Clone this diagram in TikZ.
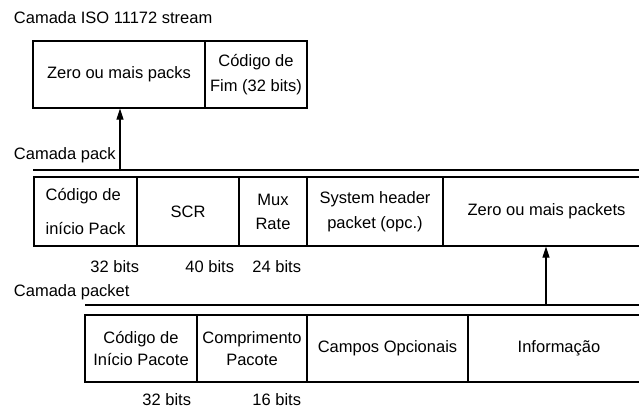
\documentclass[tikz,border=0pt]{standalone}
\usepackage{fontspec}
\setmainfont{Liberation Sans}
\usetikzlibrary{arrows.meta}

\begin{document}
\begin{tikzpicture}[x=1pt,y=-1pt,line width=1.2pt,
  every node/.style={font=\fontsize{16.5}{22}\selectfont},
  field/.style={draw,rectangle,inner sep=2pt,align=center},
  up/.style={-{Triangle[length=11pt,width=7pt]}}]
\useasboundingbox (0,0) rectangle (639,409);
\clip (0,0) rectangle (639,409);
% camada stream
\node[anchor=west] (lstream) at (10,18) {Camada ISO 11172 stream};
\node[field,minimum width=172,minimum height=67] (packs) at (119,74.5) {Zero ou mais packs};
\node[field,minimum width=102,minimum height=67] (fim) at (256,74.5) {Código de\\[3pt]Fim (32 bits)};
% camada pack
\node[anchor=west] (lpack) at (10,155) {Camada pack};
\coordinate (packl) at (33,170);
\draw (packl) -- (639,170);
\node[field,align=left,minimum width=103,minimum height=69] (start) at (85.5,211.5) {Código de\\[12pt]início Pack};
\node[field,minimum width=102,minimum height=69] (scr) at (188,211.5) {SCR};
\node[field,minimum width=68,minimum height=69] (mux) at (273,211.5) {Mux\\[2pt]Rate};
\node[field,minimum width=136,minimum height=69] (sysh) at (375,211.5) {System header\\[3pt]packet (opc.)};
\node[field,minimum width=207,minimum height=69] (packets) at (546.5,211.5) {Zero ou mais packets};
\node[anchor=east] (b32) at (143,267) {32 bits};
\node[anchor=east] (b40) at (238,267) {40 bits};
\node[anchor=east] (b24) at (305,267) {24 bits};
\coordinate (a1) at (120,170);
\draw[up] (a1) -- (a1 |- packs.south);
% camada packet
\node[anchor=west] (lpacket) at (10,292) {Camada packet};
\coordinate (packetl) at (85,305);
\draw (packetl) -- (639,305);
\node[field,minimum width=112,minimum height=67] (pstart) at (141,348.5) {Código de\\Início Pacote};
\node[field,minimum width=110,minimum height=67] (plen) at (252,348.5) {Comprimento\\Pacote};
\node[field,minimum width=161,minimum height=67] (opt) at (387.5,348.5) {Campos Opcionais};
\node[field,minimum width=182,minimum height=67] (info) at (559,348.5) {Informação};
\node[anchor=east] (c32) at (195,400) {32 bits};
\node[anchor=east] (c16) at (305,400) {16 bits};
\coordinate (a2) at (546,305);
\draw[up] (a2) -- (a2 |- packets.south);
\end{tikzpicture}
\end{document}
